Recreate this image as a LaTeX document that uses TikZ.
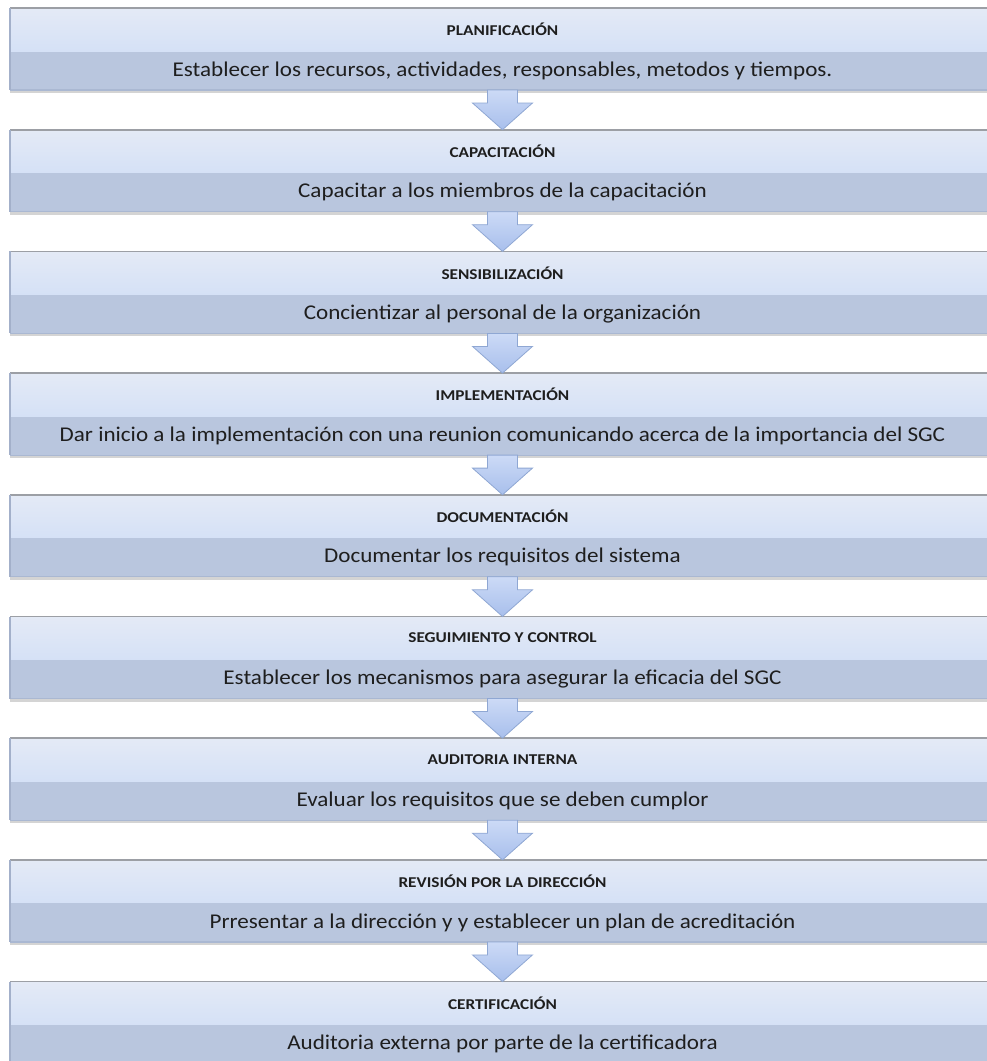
\documentclass[tikz,border=0pt]{standalone}
\usepackage{fontspec}
\setmainfont{Carlito}
\newfontfamily\titlefont[FakeStretch=1.15]{Carlito}
\newfontfamily\descfont[FakeStretch=1.1]{Carlito}
\usetikzlibrary{calc,shadows}

\definecolor{titletop}{HTML}{E4EAF6}
\definecolor{titlebot}{HTML}{D5E1F6}
\definecolor{descfill}{HTML}{B9C6DE}
\definecolor{descedge}{HTML}{AAB8D2}
\definecolor{topedge}{HTML}{9C9FA5}
\definecolor{leftedge}{HTML}{A3B0CA}
\definecolor{arrowtop}{HTML}{CCDAF6}
\definecolor{arrowbot}{HTML}{A8BFEC}
\definecolor{arrowedge}{HTML}{8FA7D3}
\definecolor{ink}{HTML}{1E1E1E}

\tikzset{
  titleband/.style={rectangle, inner sep=0pt, outer sep=0pt,
    minimum width=985pt, minimum height=43pt,
    top color=titletop, bottom color=titlebot, draw=none,
    text=ink, font=\titlefont\bfseries\fontsize{15}{17}\selectfont},
  descband/.style={rectangle, inner sep=0pt, outer sep=0pt,
    minimum width=985pt, minimum height=39pt,
    fill=descfill, draw=none, text=ink,
    font=\descfont\fontsize{21}{25}\selectfont,
    drop shadow={shadow xshift=0pt, shadow yshift=-3pt, opacity=.28, fill=black!60}},
  topline/.style={draw=topedge, line width=1.6pt},
  sideline/.style={draw=leftedge, line width=1.2pt},
  bottomline/.style={draw=descedge, line width=1.2pt},
  flowarrow/.style={top color=arrowtop, bottom color=arrowbot,
    draw=arrowedge, line width=0.8pt, line join=miter},
}

\begin{document}
\begin{tikzpicture}[x=1pt, y=-1pt]
\useasboundingbox (0,0) rectangle (986,1061);

% stages: title band on top, description band below
\foreach \ttl/\dsc [count=\i from 0] in {
  {PLANIFICACIÓN}/{Establecer los recursos, actividades, responsables, metodos y tiempos.},
  {CAPACITACIÓN}/{Capacitar a los miembros de la capacitación},
  {SENSIBILIZACIÓN}/{Concientizar al personal de la organización},
  {IMPLEMENTACIÓN}/{Dar inicio a la implementación con una reunion comunicando acerca de la importancia del SGC},
  {DOCUMENTACIÓN}/{Documentar los requisitos del sistema},
  {SEGUIMIENTO Y CONTROL}/{Establecer los mecanismos para asegurar la eficacia del SGC},
  {AUDITORIA INTERNA}/{Evaluar los requisitos que se deben cumplor},
  {REVISIÓN POR LA DIRECCIÓN}/{Prresentar a la dirección y y establecer un plan de acreditación},
  {CERTIFICACIÓN}/{Auditoria externa por parte de la certificadora}} {
  \node[descband, anchor=north] (d\i) at (502.5, {8 + 121.7*\i + 43}) {\dsc};
  \node[titleband, anchor=north] (t\i) at (502.5, {8 + 121.7*\i}) {\ttl};
  \draw[bottomline] (d\i.south west) -- (d\i.south east);
  \draw[topline] (t\i.north west) -- (t\i.north east);
  \draw[sideline] (t\i.north west) -- (d\i.south west);
}

% block arrows from each stage to the next
\foreach \i [evaluate=\i as \j using int(\i+1)] in {0,...,7} {
  \draw[flowarrow]
    ($(d\i.south)+(-15,0)$) -- ($(d\i.south)+(-15,13)$) --
    ($(d\i.south)+(-30,13)$) -- (t\j.north) --
    ($(d\i.south)+(30,13)$) -- ($(d\i.south)+(15,13)$) --
    ($(d\i.south)+(15,0)$) -- cycle;
}
\end{tikzpicture}
\end{document}
